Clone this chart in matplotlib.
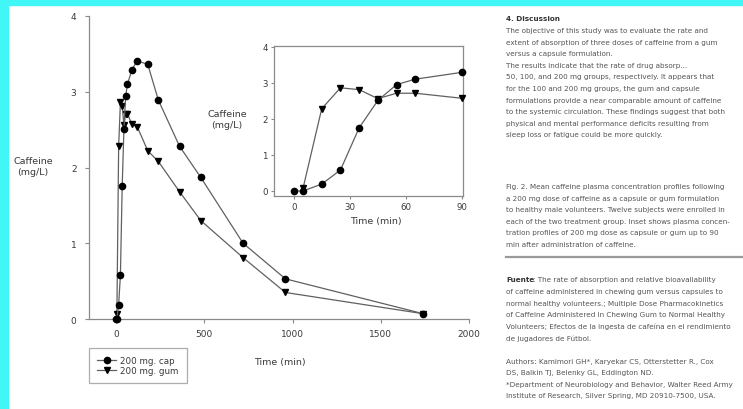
import matplotlib.pyplot as plt
from matplotlib.lines import Line2D

# ---- Data ----
cap_time = [0, 5, 15, 25, 35, 45, 55, 65, 90, 120, 180, 240, 360, 480, 720, 960, 1740]
cap_conc = [0.0, 0.0, 0.19, 0.58, 1.75, 2.51, 2.95, 3.10, 3.29, 3.41, 3.36, 2.89, 2.28, 1.87, 1.00, 0.53, 0.07]
gum_time = [5, 15, 25, 35, 45, 55, 65, 90, 120, 180, 240, 360, 480, 720, 960, 1740]
gum_conc = [0.07, 2.28, 2.86, 2.81, 2.56, 2.71, 2.71, 2.57, 2.54, 2.22, 2.08, 1.68, 1.30, 0.81, 0.35, 0.07]

inset_max = 90  # inset shows the first 90 min only
main_xticks = [0, 500, 1000, 1500, 2000]
inset_xticks = [0, 30, 60, 90]
yticks = [0, 1, 2, 3, 4]

discussion = [
    "The objective of this study was to evaluate the rate and",
    "extent of absorption of three doses of caffeine from a gum",
    "versus a capsule formulation.",
    "The results indicate that the rate of drug absorp...",
    "50, 100, and 200 mg groups, respectively. It appears that",
    "for the 100 and 200 mg groups, the gum and capsule",
    "formulations provide a near comparable amount of caffeine",
    "to the systemic circulation. These findings suggest that both",
    "physical and mental performance deficits resulting from",
    "sleep loss or fatigue could be more quickly.",
]
caption = [
    "Fig. 2. Mean caffeine plasma concentration profiles following",
    "a 200 mg dose of caffeine as a capsule or gum formulation",
    "to healthy male volunteers. Twelve subjects were enrolled in",
    "each of the two treatment group. Inset shows plasma concen-",
    "tration profiles of 200 mg dose as capsule or gum up to 90",
    "min after administration of caffeine.",
]
source = [
    "of caffeine administered in chewing gum versus capsules to",
    "normal healthy volunteers.; Multiple Dose Pharmacokinetics",
    "of Caffeine Administered in Chewing Gum to Normal Healthy",
    "Volunteers; Efectos de la ingesta de cafeína en el rendimiento",
    "de jugadores de Fútbol.",
]
authors = [
    "Authors: Kamimori GH*, Karyekar CS, Otterstetter R., Cox",
    "DS, Balkin TJ, Belenky GL, Eddington ND.",
    "*Department of Neurobiology and Behavior, Walter Reed Army",
    "Institute of Research, Silver Spring, MD 20910-7500, USA.",
]

W, H = 743, 410
line_col = '#606060'
spine_col = '#8a8a8a'
txt_col = '#3a3a3a'
plt.rcParams['font.family'] = ['DejaVu Sans']

fig = plt.figure(figsize=(W / 100, H / 100), dpi=100)
fig.patch.set_facecolor('white')

# cyan frame strips
fig.add_artist(plt.Rectangle((0, 0), 8 / W, 1, transform=fig.transFigure, color='#40f6f6', zorder=0))
fig.add_artist(plt.Rectangle((0, 1 - 6 / H), 1, 6 / H, transform=fig.transFigure, color='#40f6f6', zorder=0))


def style(ax, fs):
    for s in ax.spines.values():
        s.set_color(spine_col)
        s.set_linewidth(0.9)
    ax.tick_params(direction='out', color=spine_col, labelcolor=txt_col, labelsize=fs, length=3, width=0.8)


def draw(ax, tmax=None):
    ct, cc = cap_time, cap_conc
    gt, gc = gum_time, gum_conc
    if tmax is not None:
        ct = [t for t in cap_time if t <= tmax]
        cc = cap_conc[:len(ct)]
        gt = [t for t in gum_time if t <= tmax]
        gc = gum_conc[:len(gt)]
    ax.plot(ct, cc, '-', color=line_col, lw=0.9, marker='o', ms=4.5,
            mfc='black', mec='black', zorder=4, clip_on=False)
    ax.plot(gt, gc, '-', color=line_col, lw=0.9, marker='v', ms=4.5,
            mfc='black', mec='black', zorder=3, clip_on=False)


# ---- Main axes ----
ax = fig.add_axes([89 / W, 1 - 320 / H, 380 / W, 303 / H])
draw(ax)
ax.set_xlim(-153, 2000)
ax.set_ylim(0, 4)
ax.set_xticks(main_xticks)
ax.set_yticks(yticks)
ax.spines['top'].set_visible(False)
ax.spines['right'].set_visible(False)
style(ax, 6.5)
ax.tick_params(axis='x', pad=4)
ax.tick_params(axis='y', pad=6)

fig.text(33 / W, 1 - 167 / H, "Caffeine\n(mg/L)", ha='center', va='center', fontsize=6.8,
         color=txt_col, linespacing=1.3)
fig.text(280 / W, 1 - 363 / H, "Time (min)", ha='center', va='center', fontsize=6.8, color=txt_col)

# ---- Inset ----
ins = fig.add_axes([274 / W, 1 - 197 / H, 189 / W, 150 / H])
draw(ins, inset_max)
ins.set_xlim(-10.5, 90.5)
ins.set_ylim(-0.14, 4.02)
ins.set_xticks(inset_xticks)
ins.set_yticks(yticks)
style(ins, 6.2)
ins.tick_params(length=2.5, pad=2)
fig.text(227 / W, 1 - 120 / H, "Caffeine\n(mg/L)", ha='center', va='center', fontsize=6.8,
         color=txt_col, linespacing=1.3)
fig.text(376 / W, 1 - 222 / H, "Time (min)", ha='center', va='center', fontsize=6.8, color=txt_col)

# ---- Legend ----
handles = [Line2D([], [], color=line_col, lw=0.9, marker='o', ms=4.5, mfc='black', mec='black'),
           Line2D([], [], color=line_col, lw=0.9, marker='v', ms=4.5, mfc='black', mec='black')]
leg = fig.legend(handles, ["200 mg. cap", "200 mg. gum"], loc='upper left',
                 bbox_to_anchor=(89 / W, 1 - 349 / H), fontsize=6.3, frameon=True, fancybox=False,
                 handlelength=2.2, borderpad=0.9, labelspacing=0.15, handletextpad=0.5, borderaxespad=0)
leg.get_frame().set_edgecolor('#999999')
leg.get_frame().set_linewidth(0.9)
for t in leg.get_texts():
    t.set_color(txt_col)

# ---- Right-hand page text ----
tx = 506 / W
fs = 5.2
fig.text(tx, 1 - 19 / H, "4. Discussion", fontsize=fs, color='#333333', fontweight='bold', va='center')
for i, s in enumerate(discussion):
    fig.text(tx, 1 - (31 + 11.6 * i) / H, s, fontsize=fs, color='#555555', va='center')
for i, s in enumerate(caption):
    fig.text(tx, 1 - (187 + 11.6 * i) / H, s, fontsize=fs, color='#555555', va='center')
fig.add_artist(Line2D([tx, 1], [1 - 258 / H, 1 - 258 / H], transform=fig.transFigure,
                      color='#9a9a9a', lw=1.6))
fig.text(tx, 1 - 280 / H, "Fuente", fontsize=fs, color='#333333', fontweight='bold', va='center')
fig.text(tx + 27 / W, 1 - 280 / H, ": The rate of absorption and relative bioavailability",
         fontsize=fs, color='#555555', va='center')
for i, s in enumerate(source):
    fig.text(tx, 1 - (292 + 11.6 * i) / H, s, fontsize=fs, color='#555555', va='center')
for i, s in enumerate(authors):
    fig.text(tx, 1 - (362 + 11.5 * i) / H, s, fontsize=fs, color='#555555', va='center')

fig.savefig("out.png", dpi=100)
